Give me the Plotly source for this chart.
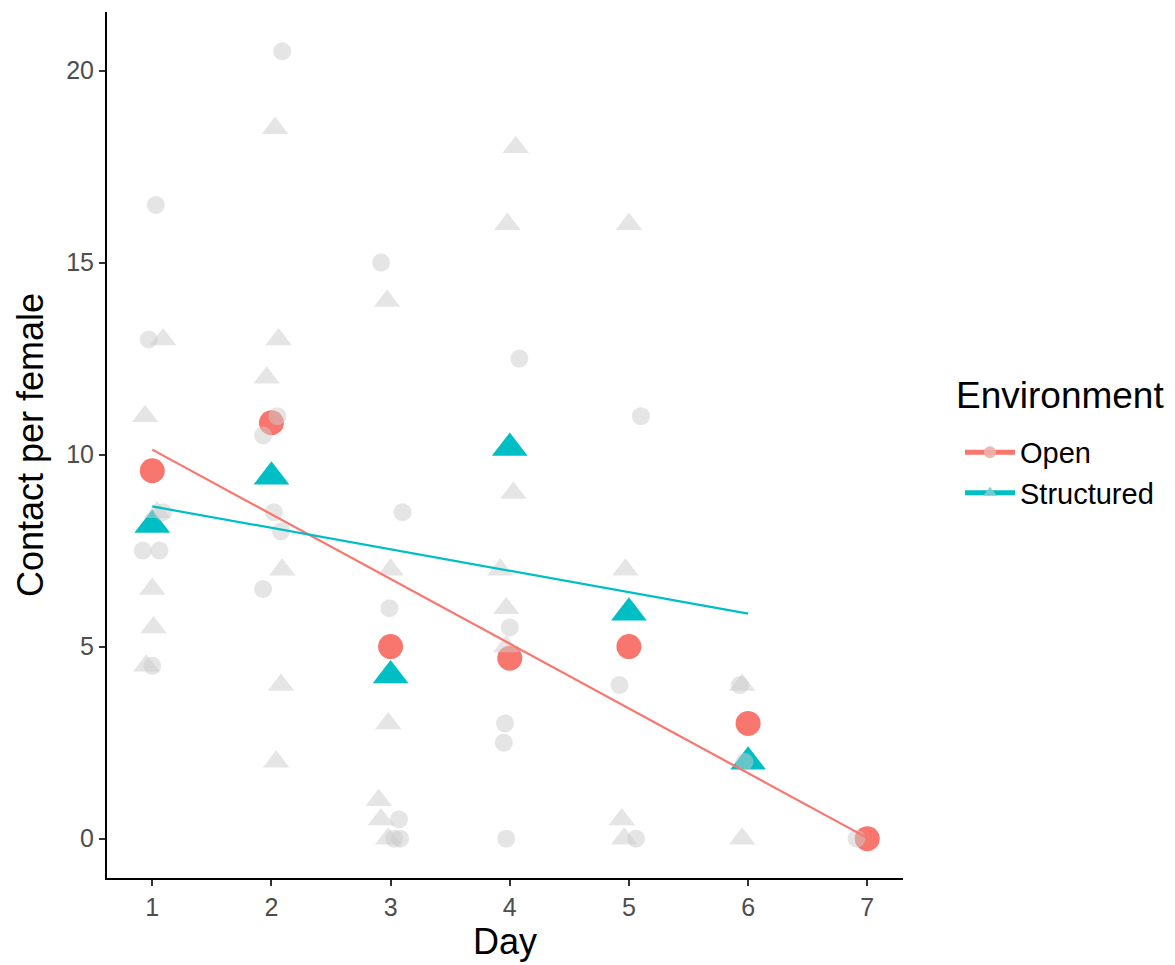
import plotly.graph_objects as go

# ---- data ----
days = [1, 2, 3, 4, 5, 6, 7]

# raw observations (jittered x as drawn)
open_x = [1.03, 0.97, 1.09, 0.92, 1.06, 1.00,
          2.09, 2.05, 1.93, 2.02, 2.08, 1.93,
          2.92, 3.10, 2.99, 3.07, 3.03, 3.08,
          4.08, 4.00, 3.96, 3.95, 3.97,
          5.10, 4.92, 5.06,
          5.93, 5.97,
          6.91]
open_y = [16.5, 13, 8.5, 7.5, 7.5, 4.5,
          20.5, 11, 10.5, 8.5, 8, 6.5,
          15, 8.5, 6, 0.5, 0, 0,
          12.5, 5.5, 3, 2.5, 0,
          11, 4, 0,
          4, 2,
          0]
struct_x = [1.09, 0.94, 1.04, 1.00, 1.01, 0.95,
            2.03, 2.06, 1.96, 2.09, 2.08, 2.04,
            2.97, 3.00, 2.98, 2.90, 2.92, 2.98,
            4.05, 3.98, 4.03, 3.92, 3.97, 3.97,
            5.00, 4.97, 4.94, 4.96,
            5.95, 5.95]
struct_y = [13, 11, 8.5, 6.5, 5.5, 4.5,
            18.5, 13, 12, 7, 4, 2,
            14, 7, 3, 1, 0.5, 0,
            18, 16, 9, 7, 6, 5,
            16, 7, 0.5, 0,
            4, 0]

# daily means
open_days = [1, 2, 3, 4, 5, 6, 7]
open_mean = [9.58, 10.83, 5.0, 4.7, 5.0, 3.0, 0.0]
struct_days = [1, 2, 3, 4, 5, 6]
struct_mean = [8.17, 9.42, 4.25, 10.17, 5.88, 2.0]

# fitted lines (endpoints)
open_fit_x = [1, 7]
open_fit_y = [10.13, 0.02]
struct_fit_x = [1, 6]
struct_fit_y = [8.65, 5.86]

RED = "#F8766D"
TEAL = "#00BFC4"
GREY = "rgba(204,204,204,0.5)"
FONT = "Liberation Sans, Arial, sans-serif"

fig = go.Figure()

# mean points
fig.add_trace(go.Scatter(x=open_days, y=open_mean, mode="markers",
                         marker=dict(symbol="circle", size=25, color=RED),
                         showlegend=False, hoverinfo="skip"))
fig.add_trace(go.Scatter(x=struct_days, y=struct_mean, mode="markers",
                         marker=dict(symbol="triangle-up", size=31, color=TEAL),
                         showlegend=False, hoverinfo="skip"))

# raw points in grey
fig.add_trace(go.Scatter(x=open_x, y=open_y, mode="markers",
                         marker=dict(symbol="circle", size=18, color=GREY),
                         showlegend=False, hoverinfo="skip"))
fig.add_trace(go.Scatter(x=struct_x, y=struct_y, mode="markers",
                         marker=dict(symbol="triangle-up", size=23, color=GREY),
                         showlegend=False, hoverinfo="skip"))

# fitted lines
fig.add_trace(go.Scatter(x=open_fit_x, y=open_fit_y, mode="lines",
                         line=dict(color=RED, width=2.2),
                         showlegend=False, hoverinfo="skip"))
fig.add_trace(go.Scatter(x=struct_fit_x, y=struct_fit_y, mode="lines",
                         line=dict(color=TEAL, width=2.2),
                         showlegend=False, hoverinfo="skip"))

# legend entries
fig.add_trace(go.Scatter(x=[None], y=[None], mode="lines+markers", name="Open",
                         line=dict(color=RED, width=2.2),
                         marker=dict(symbol="circle", size=12, color="rgba(240,175,170,0.9)")))
fig.add_trace(go.Scatter(x=[None], y=[None], mode="lines+markers", name="Structured",
                         line=dict(color=TEAL, width=2.2),
                         marker=dict(symbol="triangle-up", size=12, color="rgba(120,205,208,0.9)")))

axis_common = dict(
    showline=True, linecolor="black", linewidth=2,
    ticks="outside", ticklen=6, tickwidth=1.5, tickcolor="#333333",
    showgrid=False, zeroline=False,
    tickfont=dict(family=FONT, size=25, color="#4D4D4D"),
)

fig.update_layout(
    width=1175, height=965,
    margin=dict(l=99, r=280, t=4, b=95),
    plot_bgcolor="white", paper_bgcolor="white",
    font=dict(family=FONT, color="black"),
    xaxis=dict(range=[0.62, 7.30], tickvals=days,
               title=dict(text="Day", font=dict(family=FONT, size=36), standoff=5),
               automargin=False, **axis_common),
    yaxis=dict(range=[-1.025, 21.525], tickvals=[0, 5, 10, 15, 20],
               title=dict(text="Contact per female", font=dict(family=FONT, size=36), standoff=12),
               automargin=False, **axis_common),
    legend=dict(x=1.0716, y=0.521, xanchor="left", yanchor="top",
                font=dict(family=FONT, size=29), itemsizing="constant", itemwidth=50,
                bgcolor="rgba(0,0,0,0)"),
    annotations=[dict(text="Environment", xref="paper", yref="paper",
                      x=1.064, y=0.5566, xanchor="left", yanchor="middle",
                      showarrow=False, font=dict(family=FONT, size=37, color="black"))],
)

fig.write_html("out.html")
